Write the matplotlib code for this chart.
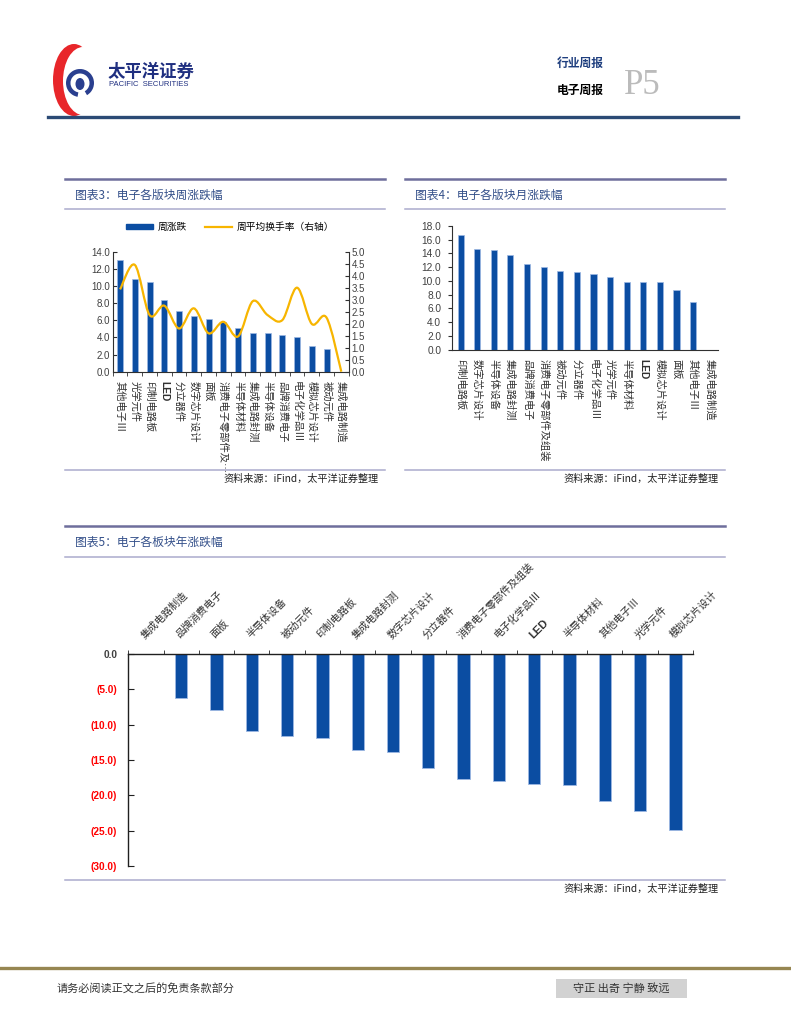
import numpy as np
import matplotlib
matplotlib.use("Agg")
import matplotlib.pyplot as plt
from matplotlib.path import Path
from matplotlib.patches import PathPatch, Patch, Ellipse, Rectangle, Wedge
from matplotlib.lines import Line2D

plt.rcParams['font.family'] = ['Noto Sans CJK SC', 'DejaVu Sans']

# ---- data ----
# chart 3: weekly change and average turnover (right axis)
week_cats = ["其他电子Ⅲ", "光学元件", "印制电路板", "LED", "分立器件", "数字芯片设计", "面板",
             "消费电子零部件及…", "半导体材料", "集成电路封测", "半导体设备", "品牌消费电子",
             "电子化学品Ⅲ", "模拟芯片设计", "被动元件", "集成电路制造"]
week_chg = [13.0, 10.8, 10.45, 8.35, 7.1, 6.5, 6.1, 5.8, 5.05, 4.5, 4.5, 4.3, 4.0, 3.0, 2.6, 0.0]
week_turnover = [3.43, 4.45, 2.36, 2.75, 1.8, 2.64, 1.6, 2.08, 1.47, 2.94, 2.36, 2.15, 3.5, 1.99, 2.25, 0.0]

# chart 4: monthly change
month_cats = ["印制电路板", "数字芯片设计", "半导体设备", "集成电路封测", "品牌消费电子",
              "消费电子零部件及组装", "被动元件", "分立器件", "电子化学品Ⅲ", "光学元件",
              "半导体材料", "LED", "模拟芯片设计", "面板", "其他电子Ⅲ", "集成电路制造"]
month_chg = [16.65, 14.6, 14.47, 13.74, 12.43, 11.99, 11.46, 11.36, 11.02, 10.58,
             9.85, 9.8, 9.8, 8.69, 6.94, 0.0]

# chart 5: yearly change
year_cats = ["集成电路制造", "品牌消费电子", "面板", "半导体设备", "被动元件", "印制电路板",
             "集成电路封测", "数字芯片设计", "分立器件", "消费电子零部件及组装", "电子化学品Ⅲ",
             "LED", "半导体材料", "其他电子Ⅲ", "光学元件", "模拟芯片设计"]
year_chg = [0.0, -6.25, -7.9, -10.95, -11.6, -11.87, -13.57, -13.9, -16.2, -17.66,
            -17.95, -18.33, -18.56, -20.82, -22.24, -24.93]

W, H = 791, 1024
BLUE = "#0B4DA2"
EDGE = "#9DB8E3"
YELLOW = "#F7B500"
TXT = "#404040"
NUM = ['Liberation Sans', 'DejaVu Sans']

fig = plt.figure(figsize=(W / 100, H / 100), dpi=100)

# overlay axes in pixel coordinates for page decorations
deco = fig.add_axes([0, 0, 1, 1], zorder=-1)
deco.set_xlim(0, W)
deco.set_ylim(H, 0)
deco.axis('off')


def px_axes(x0, y0, x1, y1):
    return fig.add_axes([x0 / W, 1 - y1 / H, (x1 - x0) / W, (y1 - y0) / H])


def panel(x0, x1, ytop, ysub, ybot, title):
    deco.plot([x0, x1], [ytop, ytop], color="#6E6E9C", lw=1.8)
    deco.plot([x0, x1], [ysub, ysub], color="#ABABCD", lw=1.1)
    deco.plot([x0, x1], [ybot, ybot], color="#ABABCD", lw=1.1)
    deco.text(x0 + 10, (ytop + ysub) / 2 + 1, title, fontsize=8.5, color="#34508A",
              ha='left', va='center')
    deco.text(x1 - 6, ybot + 9, "资料来源：iFind，太平洋证券整理", fontsize=7.3,
              color="#202020", ha='right', va='center')


def smooth_path(xs, ys):
    pts = np.column_stack([xs, ys]).astype(float)
    n = len(pts)
    verts = [pts[0]]
    codes = [Path.MOVETO]
    for i in range(n - 1):
        p0 = pts[i - 1] if i > 0 else pts[i]
        p1 = pts[i]
        p2 = pts[i + 1]
        p3 = pts[i + 2] if i + 2 < n else pts[i + 1]
        verts += [p1 + (p2 - p0) / 6, p2 - (p3 - p1) / 6, p2]
        codes += [Path.CURVE4] * 3
    return Path(verts, codes)


def bold_led(ax, size=None):
    for lab in ax.get_xticklabels():
        if lab.get_text() == "LED":
            lab.set_family(NUM)
            lab.set_fontweight('bold')
            if size:
                lab.set_fontsize(size)


# ---- header ----
deco.add_patch(Ellipse((74, 80), 42, 72, color="#E8262A", lw=0))
deco.add_patch(Ellipse((83, 81), 40, 68, color="white", lw=0))
deco.add_patch(Wedge((80, 83), 14, 100, 420, width=4.5, color="#2A3F8F", lw=0))
deco.add_patch(Ellipse((80, 84), 9, 12, color="#2A3F8F", lw=0))
deco.text(108, 72, "太平洋证券", fontsize=12.5, fontweight='bold', color="#1F2F80",
          ha='left', va='center')
deco.text(109, 85, "PACIFIC  SECURITIES", fontsize=5.5, color="#1F2F80",
          ha='left', va='center', family=NUM)
deco.text(557, 63, "行业周报", fontsize=8.5, fontweight='bold', color="#1F3F7F",
          ha='left', va='center')
deco.text(557, 90, "电子周报", fontsize=8.5, fontweight='bold', color="black",
          ha='left', va='center')
deco.text(624, 86, "P5", fontsize=25, color="#BBBBBB", ha='left', va='center',
          family=['Liberation Serif', 'DejaVu Serif'])
deco.plot([48, 738], [117, 117], color="#2B4A75", lw=2.4)

# ---- footer ----
deco.plot([0, W], [968, 968], color="#968651", lw=2.4)
deco.text(57, 988, "请务必阅读正文之后的免责条款部分", fontsize=8, color="#333333",
          ha='left', va='center')
deco.add_patch(Rectangle((556, 979), 131, 19, color="#D2D2D2", lw=0))
deco.text(621, 988.5, "守正 出奇 宁静 致远", fontsize=8, color="#333333",
          ha='center', va='center')

# ---- panels ----
panel(65, 385, 179, 209, 470, "图表3：电子各版块周涨跌幅")
panel(405, 725, 179, 209, 470, "图表4：电子各版块月涨跌幅")
panel(65, 725, 526, 557, 880, "图表5：电子各板块年涨跌幅")

# ---- chart 3 ----
ax3 = px_axes(112.7, 251.7, 348.7, 371.7)
x3 = np.arange(len(week_cats))
ax3.bar(x3, week_chg, width=0.4, color=BLUE, edgecolor=EDGE, linewidth=0.5, zorder=2)
ax3.set_xlim(-0.5, len(week_cats) - 0.5)
ax3.set_ylim(0, 14)
ax3.set_yticks(np.arange(0, 14.1, 2))
ax3.set_yticklabels([f"{v:.1f}" for v in np.arange(0, 14.1, 2)], family=NUM,
                    fontsize=7, color=TXT)
ax3.set_xticks(x3)
ax3.set_xticklabels(week_cats, rotation=-90, ha='center', va='top', fontsize=7.4,
                    color="#303030")
ax3.set_xticks(np.arange(-0.5, len(week_cats)), minor=True)
ax3.tick_params(axis='x', which='major', length=0, pad=7)
ax3.tick_params(axis='x', which='minor', length=3, direction='out', color="#303030")
ax3.tick_params(axis='y', direction='in', length=3, pad=2, color="#303030")
for s in ['top', 'right']:
    ax3.spines[s].set_visible(False)
for s in ['left', 'bottom']:
    ax3.spines[s].set_color("#303030")
    ax3.spines[s].set_linewidth(0.8)
bold_led(ax3)

ax3r = ax3.twinx()
ax3r.set_ylim(0, 5)
ax3r.set_yticks(np.arange(0, 5.01, 0.5))
ax3r.set_yticklabels([f"{v:.1f}" for v in np.arange(0, 5.01, 0.5)], family=NUM,
                     fontsize=7, color=TXT)
ax3r.tick_params(axis='y', direction='in', length=3, pad=2, color="#303030")
for s in ['top', 'left', 'bottom']:
    ax3r.spines[s].set_visible(False)
ax3r.spines['right'].set_color("#303030")
ax3r.spines['right'].set_linewidth(0.8)
ax3r.add_patch(PathPatch(smooth_path(x3, week_turnover), fill=False, edgecolor=YELLOW,
                         lw=1.6, zorder=3))

handles = [Patch(facecolor=BLUE, edgecolor=BLUE),
           Line2D([0], [0], color=YELLOW, lw=1.6)]
fig.legend(handles, ["周涨跌", "周平均换手率（右轴）"], loc='center',
           bbox_to_anchor=(230 / W, 1 - 227 / H), ncol=2, frameon=False,
           fontsize=7, handlelength=2.8, handleheight=0.55, columnspacing=1.8,
           handletextpad=0.5)

# ---- chart 4 ----
ax4 = px_axes(452.3, 226, 718, 349.7)
x4 = np.arange(len(month_cats))
ax4.bar(x4, month_chg, width=0.37, color=BLUE, edgecolor=EDGE, linewidth=0.5)
ax4.set_xlim(-0.5, len(month_cats) - 0.5)
ax4.set_ylim(0, 18)
ax4.set_yticks(np.arange(0, 18.1, 2))
ax4.set_yticklabels([f"{v:.1f}" for v in np.arange(0, 18.1, 2)], family=NUM,
                    fontsize=7.3, color=TXT)
ax4.set_xticks(x4)
ax4.set_xticklabels(month_cats, rotation=-90, ha='center', va='top', fontsize=7.4,
                    color="#303030")
ax4.tick_params(axis='x', length=0, pad=7)
ax4.tick_params(axis='y', direction='out', length=3, pad=5, color="#303030")
for s in ['top', 'right']:
    ax4.spines[s].set_visible(False)
for s in ['left', 'bottom']:
    ax4.spines[s].set_color("#303030")
    ax4.spines[s].set_linewidth(0.8)
bold_led(ax4)

# ---- chart 5 ----
ax5 = px_axes(128.3, 654, 693, 866)
x5 = np.arange(len(year_cats))
ax5.bar(x5, year_chg, width=0.35, color=BLUE, edgecolor=EDGE, linewidth=0.6)
ax5.set_xlim(-0.5, len(year_cats) - 0.5)
ax5.set_ylim(-30, 0)
yt5 = np.arange(0, -30.1, -5)
ax5.set_yticks(yt5)
ax5.set_yticklabels(["0.0" if v == 0 else f"({abs(v):.1f})" for v in yt5], family=NUM,
                    fontsize=7.3, fontweight='bold')
for lab, v in zip(ax5.get_yticklabels(), yt5):
    lab.set_color(TXT if v == 0 else "#FF0000")
ax5.tick_params(axis='y', direction='in', length=4, pad=8, color="#202020")
ax5.xaxis.tick_top()
ax5.set_xticks(x5)
ax5.set_xticklabels(year_cats, rotation=45, ha='left', va='bottom',
                    rotation_mode='anchor', fontsize=7.4, color="#303030")
ax5.set_xticks(np.arange(-0.5, len(year_cats)), minor=True)
ax5.tick_params(axis='x', which='major', length=0, pad=10)
ax5.tick_params(axis='x', which='minor', length=3, direction='out', color="#202020",
                top=True, bottom=False)
for s in ['bottom', 'right']:
    ax5.spines[s].set_visible(False)
for s in ['left', 'top']:
    ax5.spines[s].set_color("#202020")
    ax5.spines[s].set_linewidth(1.0)
bold_led(ax5, 8)
for lab in ax5.get_xticklabels():
    lab.set_clip_on(True)
    lab.set_clip_box(deco.bbox)

fig.savefig("out.png", dpi=100)
